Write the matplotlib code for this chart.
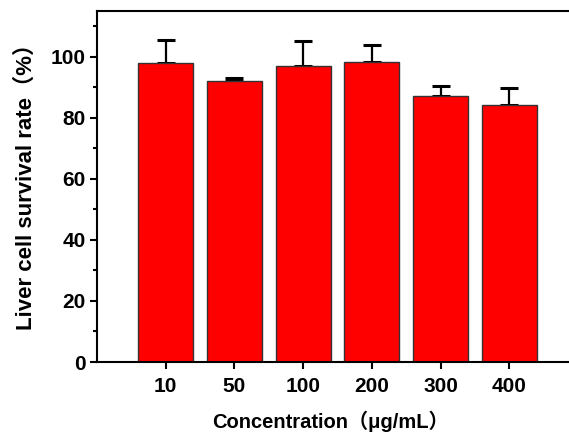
import numpy as np
import matplotlib
matplotlib.use("Agg")
import matplotlib.pyplot as plt
from matplotlib.ticker import MultipleLocator

conc = ["10", "50", "100", "200", "300", "400"]
survival = [97.9, 92.1, 96.9, 98.4, 87.0, 84.2]
err = [7.5, 1.0, 8.4, 5.6, 3.3, 5.7]

fam = ["Liberation Sans", "Noto Sans CJK SC"]
plt.rcParams["font.family"] = fam
plt.rcParams["font.weight"] = "bold"

fig = plt.figure(figsize=(5.69, 4.37), dpi=100)
ax = fig.add_axes([97 / 569, 75 / 437, 481 / 569, 351 / 437])

x = np.arange(1, len(conc) + 1)
ax.bar(x, survival, width=0.8, color="#ff0000", edgecolor="#333333", linewidth=1.0, zorder=2)
ax.errorbar(x, survival, yerr=[np.zeros(len(err)), err], fmt="none",
            ecolor="black", elinewidth=1.6, capsize=6.5, capthick=2.2, zorder=1)

ax.set_xlim(0, 7)
ax.set_ylim(0, 115)
ax.set_xticks(x)
ax.set_xticklabels(conc)
ax.yaxis.set_major_locator(MultipleLocator(20))
ax.yaxis.set_minor_locator(MultipleLocator(10))
ax.tick_params(axis="both", which="major", direction="out", length=5, width=1.5,
               labelsize=15, pad=3)
ax.tick_params(axis="x", which="major", pad=6)
ax.tick_params(axis="y", which="minor", direction="out", length=3, width=1.5)
for s in ax.spines.values():
    s.set_linewidth(1.5)

ax.set_xlabel("Concentration（μg/mL）", fontsize=14.5, fontweight="bold")
ax.xaxis.set_label_coords(0.485, -0.14)
ax.set_ylabel("Liver cell survival rate（%）", fontsize=16, fontweight="bold")
ax.yaxis.set_label_coords(-0.125, 0.515)

fig.savefig("out.png", dpi=100)
